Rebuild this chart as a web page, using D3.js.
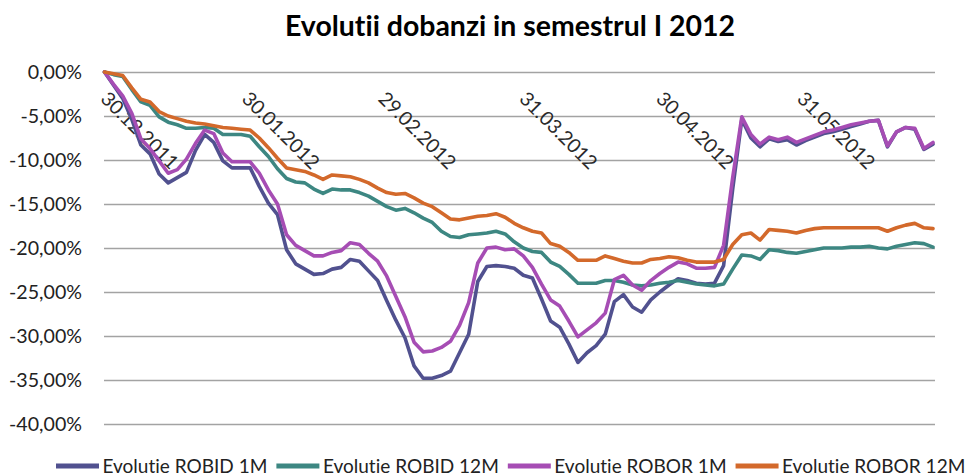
<!DOCTYPE html>
<html><head><meta charset="utf-8">
<script src="https://cdn.jsdelivr.net/npm/d3@7"></script>
<style>body{margin:0;background:#fff}svg{display:block}text{font-variant-ligatures:none;font-feature-settings:"liga" 0,"clig" 0}</style>
</head><body>
<svg id="c" width="975" height="476"></svg>
<script>
const dates = ["2011-12-30","2012-01-01","2012-01-03","2012-01-05","2012-01-07","2012-01-09","2012-01-11","2012-01-13","2012-01-15","2012-01-17","2012-01-19","2012-01-21","2012-01-23","2012-01-25","2012-01-27","2012-01-29","2012-01-31","2012-02-02","2012-02-04","2012-02-06","2012-02-08","2012-02-10","2012-02-12","2012-02-14","2012-02-16","2012-02-18","2012-02-20","2012-02-22","2012-02-24","2012-02-26","2012-02-28","2012-03-01","2012-03-03","2012-03-05","2012-03-07","2012-03-09","2012-03-11","2012-03-13","2012-03-15","2012-03-17","2012-03-19","2012-03-21","2012-03-23","2012-03-25","2012-03-27","2012-03-29","2012-03-31","2012-04-02","2012-04-04","2012-04-06","2012-04-08","2012-04-10","2012-04-12","2012-04-14","2012-04-16","2012-04-18","2012-04-20","2012-04-22","2012-04-24","2012-04-26","2012-04-28","2012-04-30","2012-05-02","2012-05-04","2012-05-06","2012-05-08","2012-05-10","2012-05-12","2012-05-14","2012-05-16","2012-05-18","2012-05-20","2012-05-22","2012-05-24","2012-05-26","2012-05-28","2012-05-30","2012-06-01","2012-06-03","2012-06-05","2012-06-07","2012-06-09","2012-06-11","2012-06-13","2012-06-15","2012-06-17","2012-06-19","2012-06-21","2012-06-23","2012-06-25","2012-06-27","2012-06-29"];

const robid1M = [0,-1.5,-3.0,-5.4,-8.3,-9.3,-11.6,-12.6,-12.0,-11.4,-8.9,-7.1,-8.0,-10.1,-10.9,-10.9,-10.9,-13.0,-14.9,-16.2,-20.2,-21.8,-22.4,-23.0,-22.9,-22.4,-22.2,-21.3,-21.5,-22.6,-23.7,-26.0,-28.2,-30.2,-33.4,-34.8,-34.8,-34.5,-34.0,-31.9,-29.8,-23.8,-22.1,-22.0,-22.1,-22.3,-23.1,-23.4,-25.8,-28.3,-29.0,-30.9,-33.0,-31.9,-31.1,-29.8,-26.1,-25.3,-26.7,-27.3,-25.9,-25.0,-24.2,-23.5,-23.7,-24.0,-24.1,-24.0,-22.0,-13.3,-5.4,-7.5,-8.5,-7.6,-7.9,-7.7,-8.3,-7.8,-7.4,-7.0,-6.8,-6.5,-6.2,-5.9,-5.6,-5.5,-8.5,-6.8,-6.3,-6.5,-8.8,-8.2];

const robid12M = [0,-0.3,-0.5,-2.0,-3.4,-3.8,-5.1,-5.7,-6.0,-6.4,-6.4,-6.3,-6.4,-7.1,-7.1,-7.1,-7.3,-8.5,-9.6,-11.0,-12.1,-12.5,-12.6,-13.3,-13.8,-13.3,-13.4,-13.4,-13.7,-14.1,-14.7,-15.3,-15.7,-15.5,-16.0,-16.6,-17.1,-18.1,-18.7,-18.8,-18.5,-18.4,-18.3,-18.1,-18.4,-19.3,-20.0,-20.4,-20.5,-21.6,-22.1,-23.0,-24.0,-24.0,-24.0,-23.7,-23.7,-23.9,-24.2,-24.3,-24.2,-24.0,-23.9,-23.7,-23.9,-24.1,-24.2,-24.3,-24.1,-22.4,-20.8,-20.9,-21.3,-20.2,-20.3,-20.5,-20.6,-20.4,-20.2,-20.0,-20.0,-20.0,-19.9,-19.9,-19.8,-20.0,-20.1,-19.8,-19.6,-19.4,-19.5,-19.9];

const robor1M = [0,-1.4,-2.7,-4.7,-7.6,-8.7,-10.1,-11.5,-11.1,-9.9,-8.1,-6.6,-7.0,-9.2,-10.2,-10.2,-10.2,-11.5,-13.4,-15.0,-18.5,-19.7,-20.3,-20.9,-20.9,-20.5,-20.3,-19.4,-19.6,-20.6,-21.5,-23.2,-25.5,-27.8,-30.7,-31.8,-31.7,-31.3,-30.6,-28.8,-26.2,-21.7,-20.0,-19.9,-20.2,-20.1,-20.9,-22.2,-24.1,-25.9,-26.6,-28.3,-30.1,-29.3,-28.5,-27.4,-23.6,-23.1,-24.2,-24.8,-23.7,-22.9,-22.2,-21.6,-21.8,-22.3,-22.3,-22.2,-19.7,-12.0,-5.1,-7.1,-8.2,-7.4,-7.7,-7.4,-8.0,-7.6,-7.2,-6.8,-6.6,-6.3,-6.0,-5.8,-5.6,-5.5,-8.4,-6.8,-6.3,-6.4,-8.7,-8.0];

const robor12M = [0,-0.2,-0.4,-1.8,-3.1,-3.4,-4.5,-5.0,-5.3,-5.6,-5.8,-5.9,-6.1,-6.3,-6.4,-6.5,-6.6,-7.5,-8.6,-9.8,-10.9,-11.1,-11.3,-11.7,-12.2,-11.7,-11.8,-11.9,-12.2,-12.6,-13.2,-13.7,-13.9,-13.8,-14.3,-14.9,-15.3,-16.0,-16.7,-16.8,-16.6,-16.4,-16.3,-16.1,-16.5,-17.2,-17.7,-18.1,-18.3,-19.5,-19.8,-20.5,-21.4,-21.4,-21.4,-20.9,-21.2,-21.5,-21.7,-21.7,-21.3,-21.2,-21.0,-21.1,-21.4,-21.6,-21.6,-21.6,-21.3,-19.6,-18.5,-18.3,-19.1,-17.9,-18.0,-18.1,-18.3,-18.0,-17.8,-17.7,-17.7,-17.7,-17.7,-17.7,-17.7,-17.7,-18.1,-17.7,-17.4,-17.2,-17.7,-17.8];

const seriesNames = ["Evolutie ROBID 1M","Evolutie ROBID 12M","Evolutie ROBOR 1M","Evolutie ROBOR 12M"];
const seriesColors = ["#51518f","#3d8782","#a64db4","#d3692b"];
const yTicks = [0,-5,-10,-15,-20,-25,-30,-35,-40];
const xTickDates = ["2011-12-30","2012-01-30","2012-02-29","2012-03-31","2012-04-30","2012-05-31"];
const titleText = "Evolutii dobanzi in semestrul I 2012";

const FONT = "Lato, 'Open Sans', sans-serif";
const svg = d3.select("#c");
const parse = d3.utcParse("%Y-%m-%d");
const fmtDate = d3.utcFormat("%d.%m.%Y");
const fmtPct = v => v.toFixed(2).replace(".", ",") + "%";

function fit(text, weight, target) {
  const t = svg.append("text").attr("font-family", FONT).attr("font-weight", weight)
    .attr("font-size", 100).text(text);
  const len = t.node().getComputedTextLength();
  t.remove();
  return 100 * target / len;
}

const plotL = 104, plotR = 935;
const x = d3.scaleUtc().domain([parse(dates[0]), parse(dates[dates.length - 1])]).range([104.5, 933]);
const y = d3.scaleLinear().domain([-40, 0]).range([424, 72]);

// title
const titleSize = fit(titleText, "bold", 450);
svg.append("text").attr("x", 510).attr("y", 36).attr("text-anchor", "middle")
  .attr("font-family", FONT).attr("font-weight", "bold").attr("font-size", titleSize)
  .attr("fill", "#000").text(titleText);

// y axis with gridlines
const ySize = fit("-10,00%", "normal", 73);
const yAxis = svg.append("g").attr("transform", `translate(${plotL},0)`)
  .call(d3.axisLeft(y).tickValues(yTicks).tickSize(-(plotR - plotL)).tickPadding(22).tickFormat(fmtPct));
yAxis.select(".domain").remove();
yAxis.selectAll(".tick line").attr("stroke", "#a3a3a3").attr("stroke-width", 1.6);
yAxis.selectAll(".tick text").attr("font-family", FONT).attr("font-size", ySize).attr("fill", "#222");

// x labels (rotated)
const xSize = fit("31.05.2012", "normal", 100);
svg.append("g").selectAll("text").data(xTickDates).join("text")
  .attr("transform", d => `translate(${x(parse(d)) + 5},90) rotate(45)`)
  .attr("y", 0.72 * xSize)
  .attr("font-family", FONT).attr("font-size", xSize).attr("fill", "#2a2a2a")
  .text(d => fmtDate(parse(d)));

// series
const series = [robid1M, robid12M, robor1M, robor12M];
const line = d3.line().x((d, i) => x(parse(dates[i]))).y(d => y(d));
svg.append("g").selectAll("path").data(series).join("path")
  .attr("d", d => line(d)).attr("fill", "none")
  .attr("stroke", (d, i) => seriesColors[i]).attr("stroke-width", 3.6)
  .attr("stroke-linejoin", "round").attr("stroke-linecap", "round");

// legend
const legSize = fit(seriesNames[0], "normal", 165);
let lx = 56;
const legY = 466;
seriesNames.forEach((name, i) => {
  svg.append("line").attr("x1", lx).attr("x2", lx + 43).attr("y1", legY).attr("y2", legY)
    .attr("stroke", seriesColors[i]).attr("stroke-width", 5);
  const t = svg.append("text").attr("x", lx + 46.5).attr("y", legY + 0.36 * legSize)
    .attr("font-family", FONT).attr("font-size", legSize).attr("fill", "#222").text(name);
  lx = lx + 46.5 + t.node().getComputedTextLength() + 9;
});
</script>
</body></html>
